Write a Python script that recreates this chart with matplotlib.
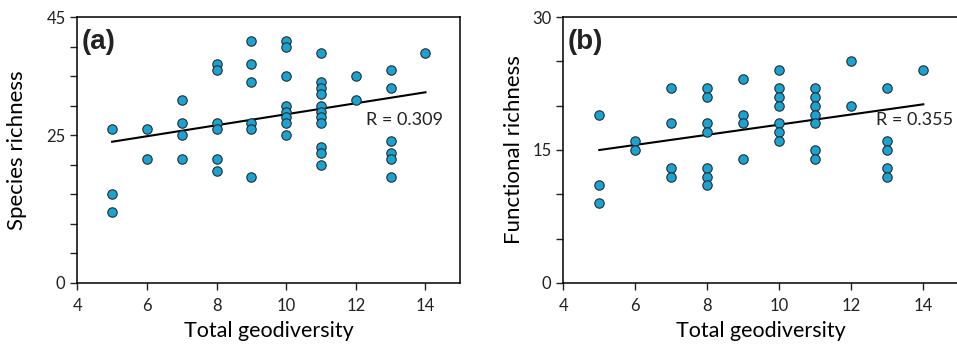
import matplotlib
matplotlib.use('Agg')
import matplotlib.pyplot as plt
import numpy as np

plt.rcParams['font.family'] = ['Lato', 'DejaVu Sans']

# panel (a): species richness vs total geodiversity
geo_a = [5, 5, 5,
         6, 6,
         7, 7, 7, 7,
         8, 8, 8, 8, 8, 8,
         9, 9, 9, 9, 9, 9,
         10, 10, 10, 10, 10, 10, 10, 10,
         11, 11, 11, 11, 11, 11, 11, 11, 11, 11, 11,
         12, 12,
         13, 13, 13, 13, 13, 13,
         14]
species = [26, 15, 12,
           26, 21,
           31, 27, 25, 21,
           37, 36, 27, 26, 21, 19,
           41, 37, 34, 27, 26, 18,
           41, 40, 35, 30, 29, 28, 27, 25,
           39, 34, 33, 32, 30, 29, 28, 27, 23, 22, 20,
           35, 31,
           36, 33, 24, 22, 21, 18,
           39]

# panel (b): functional richness vs total geodiversity
geo_b = [5, 5, 5,
         6, 6,
         7, 7, 7, 7,
         8, 8, 8, 8, 8, 8, 8,
         9, 9, 9, 9,
         10, 10, 10, 10, 10, 10, 10,
         11, 11, 11, 11, 11, 11, 11,
         12, 12,
         13, 13, 13, 13, 13,
         14]
functional = [19, 11, 9,
              16, 15,
              22, 18, 13, 12,
              22, 21, 18, 17, 13, 12, 11,
              23, 19, 18, 14,
              24, 22, 21, 20, 18, 17, 16,
              22, 21, 20, 19, 18, 15, 14,
              25, 20,
              22, 16, 15, 13, 12,
              24]

r_a = 0.309
r_b = 0.355

dot_color = '#19A3D3'

fig = plt.figure(figsize=(9.57, 3.48), dpi=100)
ax1 = fig.add_axes([0.0808, 0.187, 0.4002, 0.764])
ax2 = fig.add_axes([0.5886, 0.187, 0.4138, 0.764])


def draw_panel(ax, x, y, ymax, ylabels, ylabel, tag, r, rpos, ypad):
    ax.scatter(x, y, s=46, color=dot_color, edgecolor='#2b2b2b', linewidth=0.8, zorder=3)
    # least squares trend line
    k, b = np.polyfit(x, y, 1)
    xs = np.array([min(x), max(x)])
    ax.plot(xs, k * xs + b, color='black', lw=1.5, zorder=2)
    ax.text(rpos[0], rpos[1], 'R = %.3f' % r, fontsize=13, va='center', ha='left', color='#222222')
    ax.text(0.012, 0.905, tag, transform=ax.transAxes, fontsize=20, fontweight='bold',
            family='Liberation Sans', va='center', ha='left', color='#222222')
    ax.set_xlim(4, 15)
    ax.set_ylim(0, ymax)
    ax.set_xticks([4, 6, 8, 10, 12, 14])
    ax.set_yticks(np.arange(0, ymax + 1, 5))
    ax.set_yticklabels(ylabels)
    ax.tick_params(direction='out', length=5, width=1, labelsize=12, colors='#222222')
    ax.tick_params(axis='x', pad=6)
    ax.set_xlabel('Total geodiversity', fontsize=15.5, labelpad=5)
    ax.set_ylabel(ylabel, fontsize=16, labelpad=ypad)
    for s in ax.spines.values():
        s.set_linewidth(1.1)


draw_panel(ax1, geo_a, species, 45,
           ['0', '', '', '', '', '25', '', '', '', '45'],
           'Species richness', '(a)', r_a, (12.3, 27.6), 14)
draw_panel(ax2, geo_b, functional, 30,
           ['0', '', '', '15', '', '', '30'],
           'Functional richness', '(b)', r_b, (12.7, 18.4), 6)

plt.savefig('out.png', dpi=100)
